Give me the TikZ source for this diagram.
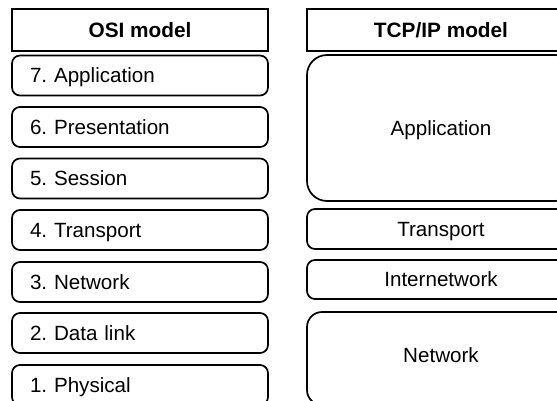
\documentclass[tikz,border=0pt]{standalone}
\usepackage{fontspec}
\setmainfont{Liberation Sans}
\frenchspacing
\begin{document}
\begin{tikzpicture}[x=1pt,y=-1pt,
  capc/.style={text height=#1, text depth=0pt},
  hdr/.style={draw=black, line width=1.2pt, rectangle, inner sep=0pt, capc=14.8pt,
    font=\fontsize{20.8}{24}\selectfont\bfseries},
  osibox/.style={draw=black, line width=1.7pt, rectangle, rounded corners=8pt, minimum height=40pt,
    text width=220pt, inner xsep=18pt, inner ysep=0pt, align=left, capc=14.7pt,
    font=\fontsize{20.6}{24}\selectfont},
  tcpbox/.style={draw=black, line width=1.7pt, rectangle, minimum width=268pt, inner sep=0pt,
    capc=14.7pt, font=\fontsize{20.6}{24}\selectfont}]
\useasboundingbox (0,0) rectangle (557,401);
\clip (0,0) rectangle (557,401);
\fill[white] (0,0) rectangle (557,401);
% headers
\node[hdr, minimum width=256pt, minimum height=42pt] (osih) at (140,30) {OSI model};
\node[hdr, minimum width=268pt, minimum height=42pt] (tcph) at (441,30) {TCP/IP model};
% OSI layers
\node[osibox] (l7) at (140,75.5) {7. Application};
\node[osibox] (l6) at (140,127) {6. Presentation};
\node[osibox] (l5) at (140,178.5) {5. Session};
\node[osibox] (l4) at (140,230) {4. Transport};
\node[osibox] (l3) at (140,282) {3. Network};
\node[osibox] (l2) at (140,333) {2. Data link};
\node[osibox] (l1) at (140,385) {1. Physical};
% TCP/IP layers
\node[tcpbox, rounded corners=20pt, minimum height=146pt] (tapp) at (441,128) {Application};
\node[tcpbox, rounded corners=8pt, minimum height=40pt] (ttr) at (441,229) {Transport};
\node[tcpbox, rounded corners=8pt, minimum height=39pt] (tin) at (441,279.5) {Internetwork};
\node[tcpbox, rounded corners=15pt, minimum height=93pt, text depth=7pt] (tnet) at (441,358.5) {Network};
\end{tikzpicture}
\end{document}
